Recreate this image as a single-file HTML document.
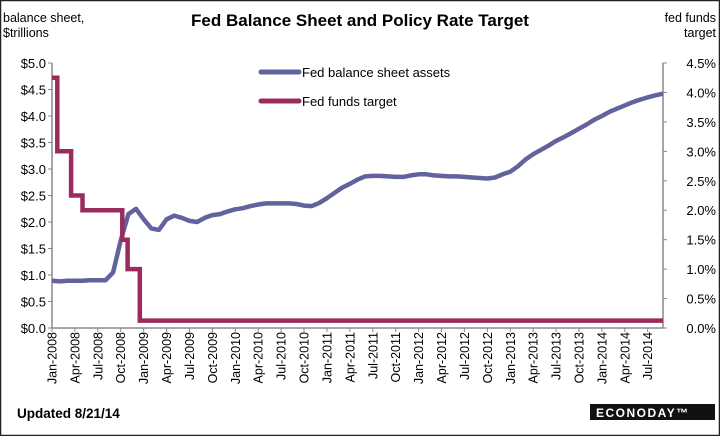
<!DOCTYPE html>
<html><head><meta charset="utf-8">
<style>
html,body{margin:0;padding:0;background:#fff}
body{width:720px;height:436px;overflow:hidden;font-family:"Liberation Sans",sans-serif}
</style></head>
<body>
<svg width="720" height="436" xmlns="http://www.w3.org/2000/svg" font-family="Liberation Sans, sans-serif">
<rect x="0.5" y="0.5" width="719" height="435" fill="#fff" stroke="#222" stroke-width="1.5"/>
<text x="360" y="26" text-anchor="middle" font-size="17" font-weight="bold">Fed Balance Sheet and Policy Rate Target</text>
<text x="3" y="22" font-size="12.5"><tspan x="3">balance sheet,</tspan><tspan x="3" dy="15">$trillions</tspan></text>
<text x="716" y="22" font-size="12.5" text-anchor="end"><tspan x="716">fed funds</tspan><tspan x="716" dy="15">target</tspan></text>
<g id="axes"></g>
<g id="series"></g>
<g>
<line x1="261" y1="72" x2="299" y2="72" stroke="#62629c" stroke-width="5" stroke-linecap="round"/>
<text x="302" y="77" font-size="13">Fed balance sheet assets</text>
<line x1="261" y1="101" x2="299" y2="101" stroke="#9b2b5c" stroke-width="5" stroke-linecap="round"/>
<text x="302" y="106" font-size="13">Fed funds target</text>
</g>
<text x="17" y="418" font-size="13.5" font-weight="bold">Updated 8/21/14</text>
<rect x="590" y="404" width="125" height="16" fill="#111"/>
<text x="596" y="417" font-size="12" font-weight="bold" fill="#fff" letter-spacing="1.5">ECONODAY™</text>
</svg>
<script>
const monthLabels=["Jan-2008","Apr-2008","Jul-2008","Oct-2008","Jan-2009","Apr-2009","Jul-2009","Oct-2009","Jan-2010","Apr-2010","Jul-2010","Oct-2010","Jan-2011","Apr-2011","Jul-2011","Oct-2011","Jan-2012","Apr-2012","Jul-2012","Oct-2012","Jan-2013","Apr-2013","Jul-2013","Oct-2013","Jan-2014","Apr-2014","Jul-2014"];
const leftTicks=[0,0.5,1,1.5,2,2.5,3,3.5,4,4.5,5];
const rightTicks=[0,0.5,1,1.5,2,2.5,3,3.5,4,4.5];
// balance sheet, monthly from Jan 2008 (month index 0)
const balanceSheet=[0.89,0.88,0.89,0.89,0.89,0.90,0.90,0.90,1.05,1.65,2.15,2.25,2.05,1.88,1.85,2.05,2.12,2.08,2.02,2.00,2.08,2.13,2.15,2.2,2.24,2.26,2.3,2.33,2.35,2.35,2.35,2.35,2.34,2.31,2.3,2.36,2.45,2.55,2.65,2.72,2.8,2.86,2.87,2.87,2.86,2.85,2.85,2.88,2.9,2.9,2.88,2.87,2.86,2.86,2.85,2.84,2.83,2.82,2.84,2.9,2.95,3.05,3.18,3.28,3.36,3.44,3.53,3.6,3.68,3.76,3.84,3.93,4.0,4.08,4.14,4.2,4.26,4.31,4.35,4.39,4.42];
// fed funds target steps: [month index, rate]
const ffMonths=[0,0.7,2.5,4.0,9.2,9.9,11.5,80];
const ffRates=[4.25,3.0,2.25,2.0,1.5,1.0,0.125,0.125];

const X0=52,X1=663,MMAX=80,Y0=328,YT=63;
const xs=m=>X0+(X1-X0)*m/MMAX;
const yL=v=>Y0-(Y0-YT)*v/5;
const yR=v=>Y0-(Y0-YT)*v/4.5;
const NS="http://www.w3.org/2000/svg";
function mk(t,a,p){const e=document.createElementNS(NS,t);for(const k in a)e.setAttribute(k,a[k]);p.appendChild(e);return e;}
const axes=document.getElementById('axes'),ser=document.getElementById('series');

let e=mk('line',{x1:X0,y1:YT,x2:X0,y2:Y0,stroke:'#888','stroke-width':1.5},axes);


e=mk('line',{x1:X1,y1:YT,x2:X1,y2:Y0,stroke:'#888','stroke-width':1.5},axes);


e=mk('line',{x1:X0,y1:Y0,x2:X1,y2:Y0,stroke:'#888','stroke-width':1.5},axes);



leftTicks.forEach(v=>{
 mk('line',{x1:X0-4,y1:yL(v),x2:X0,y2:yL(v),stroke:'#888'},axes);
 const t=mk('text',{x:X0-6,y:yL(v)+5,'text-anchor':'end','font-size':13},axes);
 t.textContent='$'+v.toFixed(1);
 
 
});
rightTicks.forEach(v=>{
 mk('line',{x1:X1,y1:yR(v),x2:X1+4,y2:yR(v),stroke:'#888'},axes);
 const t=mk('text',{x:X1+53,y:yR(v)+5,'text-anchor':'end','font-size':13},axes);
 t.textContent=v.toFixed(1)+'%';
 
 
});
monthLabels.forEach((l,i)=>{
 const x=xs(i*3);
 mk('line',{x1:x,y1:Y0,x2:x,y2:Y0+4,stroke:'#888'},axes);
 const t=mk('text',{x:0,y:0,'text-anchor':'end','font-size':12.5,transform:`translate(${x+4.5},${Y0+4}) rotate(-90)`},axes);
 t.textContent=l;
 
 
});

const bpts=balanceSheet.map((v,i)=>xs(i).toFixed(1)+','+yL(v).toFixed(1)).join(' ');
const bl=mk('polyline',{points:bpts,fill:'none',stroke:'#62629c','stroke-width':4.5,'stroke-linejoin':'round'},ser);



let fp=[];
ffMonths.forEach((m,i)=>{
 if(i>0)fp.push(xs(m).toFixed(1)+','+yR(ffRates[i-1]).toFixed(1));
 fp.push(xs(m).toFixed(1)+','+yR(ffRates[i]).toFixed(1));
});
const fl=mk('polyline',{points:fp.join(' '),fill:'none',stroke:'#9b2b5c','stroke-width':4.5},ser);


</script>
</body></html>
